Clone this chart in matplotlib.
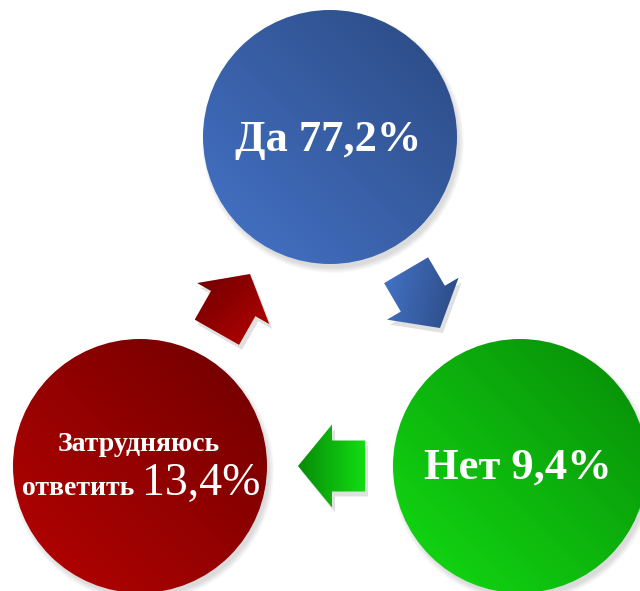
import matplotlib
matplotlib.use("Agg")
import matplotlib.pyplot as plt
from matplotlib.patches import Circle, Polygon
import numpy as np

# ответы и доли
labels = ["Да", "Нет", "Затрудняюсь ответить"]
values = [77.2, 9.4, 13.4]
light = ["#4574c9", "#13dd13", "#b80202"]
dark = ["#2b4981", "#078a07", "#6e0000"]

W, H = 640, 591


def fmt(v):
    return f"{v:.1f}".replace(".", ",") + "%"


def gradient(ax, patch, c1, c2, direction, bbox):
    # линейный градиент c1 -> c2 по направлению direction, обрезанный по фигуре
    x0, x1, y0, y1 = bbox
    X, Y = np.meshgrid(np.linspace(x0, x1, 200), np.linspace(y0, y1, 200))
    d = np.array(direction, float)
    d /= np.hypot(*d)
    t = X * d[0] + Y * d[1]
    t = (t - t.min()) / (t.max() - t.min())
    a = np.array(matplotlib.colors.to_rgb(c1))
    b = np.array(matplotlib.colors.to_rgb(c2))
    img = a + (b - a) * t[..., None]
    im = ax.imshow(img, extent=(x0, x1, y1, y0), origin="upper",
                   interpolation="bilinear", zorder=patch.get_zorder(), aspect="auto")
    im.set_clip_path(patch)


def arrow_pts(tip, direction, L=67, hl=34, hw=41.5, sw=25.5):
    d = np.array(direction, float)
    d /= np.hypot(*d)
    p = np.array([-d[1], d[0]])
    tip = np.array(tip, float)
    loc = [(0, 0), (-hl, hw), (-hl, sw), (-L, sw), (-L, -sw), (-hl, -sw), (-hl, -hw)]
    return np.array([tip + a * d + b * p for a, b in loc])


fig = plt.figure(figsize=(W / 100, H / 100), dpi=100)
ax = fig.add_axes([0, 0, 1, 1])
ax.set_xlim(0, W)
ax.set_ylim(H, 0)
ax.axis("off")

centers = [(330, 137), (520, 466), (140, 466)]
R = 127

for i, (cx, cy) in enumerate(centers):
    for k in range(6):
        ax.add_patch(Circle((cx + 3, cy + 5), R + 4 - k, color="black", alpha=0.022, lw=0, zorder=1))
    c = Circle((cx, cy), R, facecolor="none", lw=0, zorder=2)
    ax.add_patch(c)
    gradient(ax, c, light[i], dark[i], (1, -1), (cx - R, cx + R, cy - R, cy + R))

# стрелки: синий -> зелёный -> красный -> синий
arrows = [((440, 328), (34, 58), light[0], dark[0], (1, 0.2)),
          ((298, 466), (-1, 0), dark[1], light[1], (1, 0)),
          ((250, 274), (33, -58), dark[2], light[2], (1, 1))]
for tip, dirn, c1, c2, gd in arrows:
    pts = arrow_pts(tip, dirn)
    ax.add_patch(Polygon(pts + [3, 5], closed=True, color="black", alpha=0.12, lw=0, zorder=1))
    pg = Polygon(pts, closed=True, facecolor="none", lw=0, zorder=2)
    ax.add_patch(pg)
    gradient(ax, pg, c1, c2, gd, (pts[:, 0].min(), pts[:, 0].max(), pts[:, 1].min(), pts[:, 1].max()))

serif = "Liberation Serif"
ax.text(328, 140, f"{labels[0]} {fmt(values[0])}", color="white", fontsize=32,
        fontweight="bold", family=serif, ha="center", va="center", zorder=5)
ax.text(518, 468, f"{labels[1]} {fmt(values[1])}", color="white", fontsize=32,
        fontweight="bold", family=serif, ha="center", va="center", zorder=5)
w1, w2 = labels[2].split(" ")
ax.text(139, 451, w1, color="white", fontsize=20, fontweight="bold", family=serif,
        ha="center", va="baseline", zorder=5)
ax.text(134, 495, w2, color="white", fontsize=20, fontweight="bold", family=serif,
        ha="right", va="baseline", zorder=5)
ax.text(142, 495, fmt(values[2]), color="white", fontsize=33, family=serif,
        ha="left", va="baseline", zorder=5)

fig.savefig("out.png", dpi=100)
